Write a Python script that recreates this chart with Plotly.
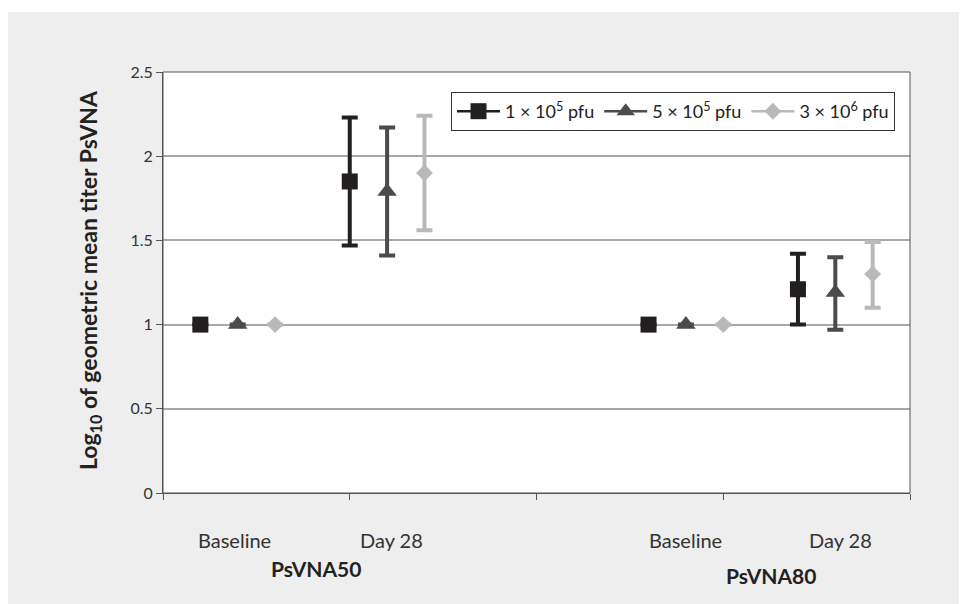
import plotly.graph_objects as go

# ---- data ----
groups = ["PsVNA50", "PsVNA80"]
timepoints = ["Baseline", "Day 28"]
series_names = ["1 × 10<sup>5</sup> pfu", "5 × 10<sup>5</sup> pfu", "3 × 10<sup>6</sup> pfu"]
y_title = "Log<sub>10</sub> of geometric mean titer PsVNA"
# values order: [PsVNA50 Baseline, PsVNA50 Day 28, PsVNA80 Baseline, PsVNA80 Day 28]
dose1_mean = [1.0, 1.85, 1.0, 1.21]
dose1_low = [1.0, 1.47, 1.0, 1.00]
dose1_high = [1.0, 2.23, 1.0, 1.42]
dose2_mean = [1.0, 1.79, 1.0, 1.19]
dose2_low = [1.0, 1.41, 1.0, 0.97]
dose2_high = [1.0, 2.17, 1.0, 1.40]
dose3_mean = [1.0, 1.90, 1.0, 1.30]
dose3_low = [1.0, 1.56, 1.0, 1.10]
dose3_high = [1.0, 2.24, 1.0, 1.49]
y_ticks = [0, 0.5, 1, 1.5, 2, 2.5]

# ---- layout helpers ----
slot_centers = [0.4, 1.2, 2.8, 3.6]
offsets = [-0.2, 0.0, 0.2]
colors = ["#231f20", "#4b4b4d", "#b9b9bb"]
symbols = ["square", "triangle-up", "diamond"]
sizes = [16, 17, 13]
FONT = "Lato, Source Sans Pro, sans-serif"

means = [dose1_mean, dose2_mean, dose3_mean]
lows = [dose1_low, dose2_low, dose3_low]
highs = [dose1_high, dose2_high, dose3_high]

fig = go.Figure()
for i in range(3):
    xs = [c + offsets[i] for c in slot_centers]
    plus = [h - m for h, m in zip(highs[i], means[i])]
    minus = [m - l for m, l in zip(means[i], lows[i])]
    fig.add_trace(go.Scatter(
        x=xs, y=means[i], mode="markers", showlegend=False,
        marker=dict(symbol=symbols[i], size=sizes[i], color=colors[i]),
        error_y=dict(type="data", symmetric=False, array=plus, arrayminus=minus,
                     color=colors[i], thickness=4, width=8, visible=True),
    ))
    fig.add_trace(go.Scatter(
        x=[None], y=[None], mode="lines+markers", name=series_names[i],
        line=dict(color=colors[i], width=2.5),
        marker=dict(symbol=symbols[i], size=sizes[i], color=colors[i]),
    ))

# figure geometry (page has an 8px body margin)
OFF = 8
FW, FH = 967 - OFF, 604 - OFF
px_left, px_right, px_top, px_bot = 163 - OFF, 910 - OFF, 72 - OFF, 493 - OFF
L, R, T, B = px_left, FW - px_right, px_top, FH - px_bot
W, H = px_right - px_left, px_bot - px_top


def xdata(page_x):
    return (page_x - OFF - px_left) / W * 4


def ypaper(page_y):
    return (px_bot - (page_y - OFF)) / H


annotations = []
label_x = [234, 391, 685, 840]
for k in range(4):
    annotations.append(dict(x=xdata(label_x[k]), xref="x", y=ypaper(540), yref="paper",
                            yanchor="middle", text=timepoints[k % 2], showarrow=False,
                            font=dict(size=20, color="#333333", family=FONT)))
group_x = [316, 771]
group_y = [568, 575]
for g in range(2):
    annotations.append(dict(x=xdata(group_x[g]), xref="x", y=ypaper(group_y[g]), yref="paper",
                            yanchor="middle", text="<b>" + groups[g] + "</b>", showarrow=False,
                            font=dict(size=21, color="#222222", family=FONT)))
annotations.append(dict(x=(89 - OFF - px_left) / W, xref="paper", y=ypaper(280), yref="paper",
                        xanchor="center", yanchor="middle", textangle=-90,
                        text="<b>" + y_title + "</b>", showarrow=False,
                        font=dict(size=23, color="#222222", family=FONT)))

shapes = [
    dict(type="rect", xref="paper", yref="paper", x0=-L / W, x1=1 + R / W,
         y0=1 + (T - 4) / H, y1=1 + T / H + 0.01, fillcolor="white", line=dict(width=0),
         layer="below"),
    dict(type="rect", xref="paper", yref="paper", x0=0, x1=1, y0=0, y1=1,
         line=dict(color="#555555", width=1), layer="above"),
]

fig.update_layout(
    width=FW, height=FH,
    margin=dict(l=L, r=R, t=T, b=B),
    paper_bgcolor="#eeeeee", plot_bgcolor="white",
    font=dict(family=FONT, color="#333333"),
    xaxis=dict(range=[0, 4], tickvals=[0, 1, 2, 3, 4], showticklabels=False,
               ticks="outside", ticklen=6, tickcolor="#555555",
               showline=True, linecolor="#555555", linewidth=1,
               showgrid=False, zeroline=False, fixedrange=True),
    yaxis=dict(range=[0, 2.5], tickvals=y_ticks, ticktext=[str(t) for t in y_ticks],
               ticks="outside", ticklen=6, tickcolor="#555555",
               showline=True, linecolor="#555555", linewidth=1,
               showgrid=True, gridcolor="#a8a8a8", gridwidth=1.5, zeroline=False,
               tickfont=dict(size=16, color="#333333")),
    legend=dict(orientation="h", x=(895 - OFF - px_left) / W, xanchor="right",
                y=ypaper(92), yanchor="top",
                bgcolor="white", bordercolor="#333333", borderwidth=1,
                font=dict(size=18, color="#222222"), itemwidth=43, tracegroupgap=0),
    annotations=annotations, shapes=shapes, showlegend=True,
)

fig.write_html("out.html")
